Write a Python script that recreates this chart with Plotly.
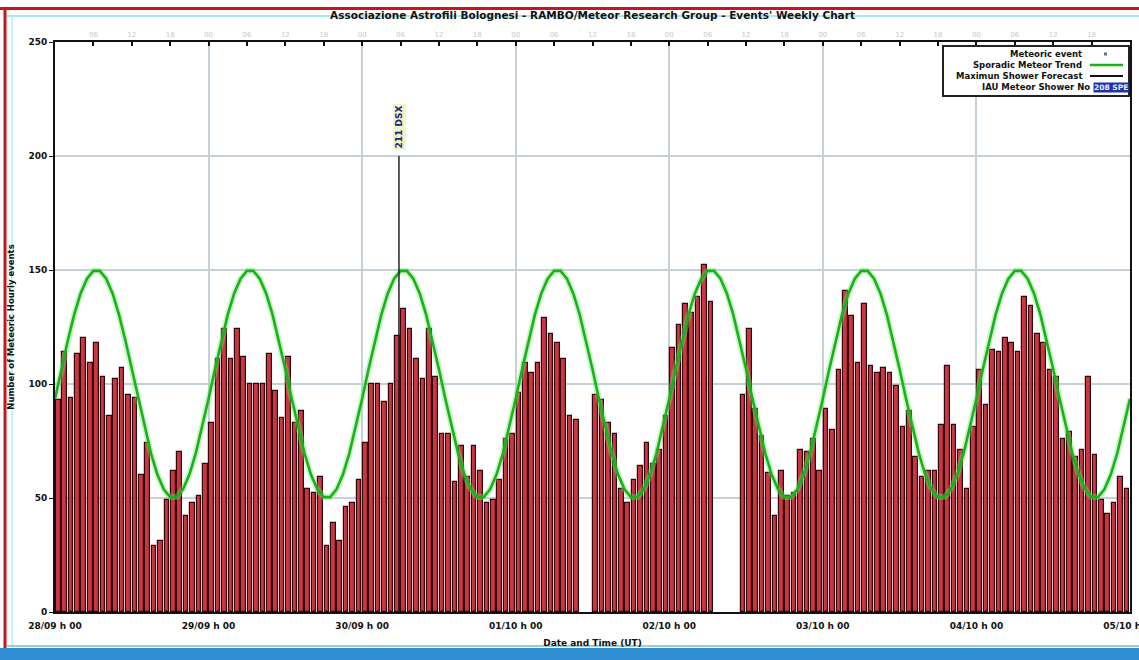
import plotly.graph_objects as go

# ---------------- data ----------------
DAY_LABELS = ["28/09 h 00", "29/09 h 00", "30/09 h 00", "01/10 h 00",
              "02/10 h 00", "03/10 h 00", "04/10 h 00", "05/10 h 00"]
DAY_HOURS = [0, 24, 48, 72, 96, 120, 144, 167.999]

# hourly meteoric event counts, 28/09 h00 ... 04/10 h23 (None = no data)
COUNTS = [
    93, 114, 94, 113, 120, 109, 118, 103, 86, 102, 107, 95,
    94, 60, 74, 29, 31, 49, 62, 70, 42, 48, 51, 65,
    83, 111, 124, 111, 124, 112, 100, 100, 100, 113, 97, 85,
    112, 83, 88, 54, 52, 59, 29, 39, 31, 46, 48, 58,
    74, 100, 100, 92, 100, 121, 133, 124, 111, 102, 124, 103,
    78, 78, 57, 73, 59, 73, 62, 48, 49, 58, 76, 78,
    96, 109, 105, 109, 129, 122, 118, 111, 86, 84, None, None,
    95, 93, 83, 78, 54, 48, 58, 64, 74, 65, 71, 86,
    116, 126, 135, 131, 138, 152, 136, None, None, None, None, 95,
    124, 89, 77, 61, 42, 62, 51, 52, 71, 70, 76, 62,
    89, 80, 106, 141, 130, 109, 135, 108, 105, 107, 105, 99,
    81, 88, 68, 59, 62, 62, 82, 108, 82, 71, 54, 81,
    106, 91, 115, 114, 120, 118, 114, 138, 134, 122, 118, 106,
    103, 76, 79, 68, 71, 103, 69, 49, 43, 48, 59, 54,
]
BAR_HOURS = [i + 0.5 for i in range(len(COUNTS))]

# sporadic meteor trend, sampled every hour (h00 of 28/09 ... h00 of 05/10)
TREND = [
    93.5, 106.5, 119.1, 130.4, 139.7, 146.2, 149.6, 149.6, 146.2, 139.7, 130.4, 119.1,
    106.5, 93.5, 80.9, 69.6, 60.3, 53.8, 50.4, 50.4, 53.8, 60.3, 69.6, 80.9,
    93.5, 106.5, 119.1, 130.4, 139.7, 146.2, 149.6, 149.6, 146.2, 139.7, 130.4, 119.1,
    106.5, 93.5, 80.9, 69.6, 60.3, 53.8, 50.4, 50.4, 53.8, 60.3, 69.6, 80.9,
    93.5, 106.5, 119.1, 130.4, 139.7, 146.2, 149.6, 149.6, 146.2, 139.7, 130.4, 119.1,
    106.5, 93.5, 80.9, 69.6, 60.3, 53.8, 50.4, 50.4, 53.8, 60.3, 69.6, 80.9,
    93.5, 106.5, 119.1, 130.4, 139.7, 146.2, 149.6, 149.6, 146.2, 139.7, 130.4, 119.1,
    106.5, 93.5, 80.9, 69.6, 60.3, 53.8, 50.4, 50.4, 53.8, 60.3, 69.6, 80.9,
    93.5, 106.5, 119.1, 130.4, 139.7, 146.2, 149.6, 149.6, 146.2, 139.7, 130.4, 119.1,
    106.5, 93.5, 80.9, 69.6, 60.3, 53.8, 50.4, 50.4, 53.8, 60.3, 69.6, 80.9,
    93.5, 106.5, 119.1, 130.4, 139.7, 146.2, 149.6, 149.6, 146.2, 139.7, 130.4, 119.1,
    106.5, 93.5, 80.9, 69.6, 60.3, 53.8, 50.4, 50.4, 53.8, 60.3, 69.6, 80.9,
    93.5, 106.5, 119.1, 130.4, 139.7, 146.2, 149.6, 149.6, 146.2, 139.7, 130.4, 119.1,
    106.5, 93.5, 80.9, 69.6, 60.3, 53.8, 50.4, 50.4, 53.8, 60.3, 69.6, 80.9,
    93.5,
]
TREND_HOURS = list(range(len(TREND)))

SHOWER_HOUR = 53.75      # 30/09 ~h05:45
SHOWER_MAX = 200
SHOWER_LABEL = "211 DSX"
IAU_SHOWER = "208 SPE"

TITLE = "Associazione Astrofili Bolognesi - RAMBO/Meteor Research Group - Events' Weekly Chart"
X_TITLE = "Date and Time (UT)"
Y_TITLE = "Number of Meteoric Hourly events"

# ---------------- layout geometry ----------------
W, H = 1139, 660
L, R, T, B = 55, 1130, 42, 612
FONT = "DejaVu Sans"


def px(x):
    return (x - L) / (R - L)


def py(y):
    return (B - y) / (B - T)


fig = go.Figure()

fig.add_trace(go.Bar(
    x=BAR_HOURS, y=COUNTS, width=0.72,
    marker=dict(color="#cc3644", line=dict(color="#300608", width=1.2)),
    showlegend=False, hoverinfo="x+y",
))
fig.add_trace(go.Scatter(
    x=TREND_HOURS, y=TREND, mode="lines",
    line=dict(color="rgba(120,225,120,0.40)", width=6),
    showlegend=False, hoverinfo="skip",
))
fig.add_trace(go.Scatter(
    x=TREND_HOURS, y=TREND, mode="lines",
    line=dict(color="#17b317", width=2.6),
    showlegend=False,
))
fig.add_trace(go.Scatter(
    x=[SHOWER_HOUR, SHOWER_HOUR], y=[0, SHOWER_MAX], mode="lines",
    line=dict(color="#222222", width=1.5),
    showlegend=False,
))
# invisible trace to anchor the top axis
fig.add_trace(go.Scatter(x=[0, 168], y=[None, None], xaxis="x2", mode="lines",
                         showlegend=False, hoverinfo="skip"))

tickfont = dict(family=FONT, size=9, color="#111111", weight="bold")

fig.update_layout(
    width=W, height=H,
    margin=dict(l=L, r=W - R, t=T, b=H - B, autoexpand=False),
    paper_bgcolor="white", plot_bgcolor="white",
    showlegend=False,
    bargap=0,
    title=dict(text=TITLE, x=0.5, xref="paper", xanchor="center",
               y=1 - 15 / H, yref="container", yanchor="middle",
               font=dict(family=FONT, size=10.5, color="#111111", weight="bold")),
    xaxis=dict(range=[0, 168], tickvals=DAY_HOURS, ticktext=DAY_LABELS,
               tickfont=tickfont, ticks="", showgrid=True, automargin=False,
               ticklabeloverflow="allow", ticklabelstandoff=4,
               gridcolor="#c6d0d8", gridwidth=1.5, zeroline=False,
               showline=True, linecolor="#111111", linewidth=2,
               title=dict(text=X_TITLE, standoff=10,
                          font=dict(family=FONT, size=9, color="#111111", weight="bold"))),
    xaxis2=dict(range=[0, 168], overlaying="x", side="top", automargin=False,
                ticks="inside", ticklen=4, tickwidth=1.5, tickcolor="#111111",
                showgrid=False, zeroline=False, showline=True,
                linecolor="#111111", linewidth=2,
                tickfont=dict(family=FONT, size=7, color="#c8c8c8"),
                tickvals=list(range(6, 168, 6)),
                ticktext=["%02d" % (h % 24) for h in range(6, 168, 6)]),
    yaxis=dict(range=[0, 250], dtick=50, tick0=0, tickfont=tickfont,
               ticks="outside", ticklen=4, tickcolor="#111111", automargin=False,
               showgrid=True, gridcolor="#c6d0d8", gridwidth=1.5,
               zeroline=False, showline=True, linecolor="#111111",
               linewidth=2, mirror=True,
               title=dict(text=Y_TITLE, standoff=12,
                          font=dict(family=FONT, size=8.5, color="#111111", weight="bold"))),
)

# shower label
fig.add_annotation(x=SHOWER_HOUR, y=SHOWER_MAX, xref="x", yref="y",
                   text="<b>%s</b>" % SHOWER_LABEL, textangle=-90,
                   showarrow=False, yanchor="bottom", yshift=6,
                   bgcolor="#f2f4c6", borderpad=1,
                   font=dict(family=FONT, size=9, color="#1a237e"))

# ---------------- legend (drawn) ----------------
shapes = []
shapes.append(dict(type="rect", xref="paper", yref="paper",
                   x0=px(943), x1=px(1129), y0=py(96), y1=py(46),
                   line=dict(color="#222222", width=2), fillcolor="white",
                   layer="above"))
legend_rows = [
    ("Meteoric event", 54),
    ("Sporadic Meteor Trend", 65),
    ("Maximun Shower Forecast", 76),
]
lfont = dict(family=FONT, size=8.5, color="#111111", weight="bold")
for txt, yy in legend_rows:
    fig.add_annotation(x=px(1084), y=py(yy), xref="paper", yref="paper",
                       text=txt, showarrow=False, xanchor="right",
                       yanchor="middle", font=lfont)
fig.add_annotation(x=px(1092), y=py(87), xref="paper", yref="paper",
                   text="IAU Meteor Shower No", showarrow=False,
                   xanchor="right", yanchor="middle", font=lfont)
fig.add_annotation(x=px(1093), y=py(87), xref="paper", yref="paper",
                   text="<b>%s</b>" % IAU_SHOWER, showarrow=False,
                   xanchor="left", yanchor="middle", bgcolor="#1f33a8",
                   borderpad=0,
                   font=dict(family=FONT, size=7.5, color="#e8ecff"))
# legend samples
shapes.append(dict(type="line", xref="paper", yref="paper",
                   x0=px(1090), x1=px(1123), y0=py(65), y1=py(65),
                   line=dict(color="#17b317", width=2.6)))
shapes.append(dict(type="line", xref="paper", yref="paper",
                   x0=px(1090), x1=px(1123), y0=py(76), y1=py(76),
                   line=dict(color="#111111", width=2)))
shapes.append(dict(type="rect", xref="paper", yref="paper",
                   x0=px(1104), x1=px(1107), y0=py(55.5), y1=py(52.5),
                   line=dict(width=0), fillcolor="#5a6fb0"))

# ---------------- window frame decorations ----------------
shapes.append(dict(type="line", xref="paper", yref="paper",
                   x0=px(0), x1=px(W), y0=py(8.5), y1=py(8.5),
                   line=dict(color="#c8141e", width=3)))
shapes.append(dict(type="line", xref="paper", yref="paper",
                   x0=px(5), x1=px(5), y0=py(8), y1=py(650),
                   line=dict(color="#c8141e", width=3)))
shapes.append(dict(type="line", xref="paper", yref="paper",
                   x0=px(7), x1=px(W), y0=py(16), y1=py(16),
                   line=dict(color="#aee6f0", width=2)))
shapes.append(dict(type="line", xref="paper", yref="paper",
                   x0=px(12), x1=px(12), y0=py(16), y1=py(645),
                   line=dict(color="#bdecf2", width=1.5)))
shapes.append(dict(type="rect", xref="paper", yref="paper",
                   x0=px(0), x1=px(W), y0=py(660), y1=py(648),
                   line=dict(width=0), fillcolor="#2f8fd2"))
shapes.append(dict(type="line", xref="paper", yref="paper",
                   x0=px(7), x1=px(W), y0=py(646), y1=py(646),
                   line=dict(color="#7fb8c8", width=1.5)))
fig.update_layout(shapes=shapes)

fig.write_html(
    "out.html",
    config={"displayModeBar": False},
    post_script="document.body.style.margin='0';document.body.style.overflow='hidden';",
)
